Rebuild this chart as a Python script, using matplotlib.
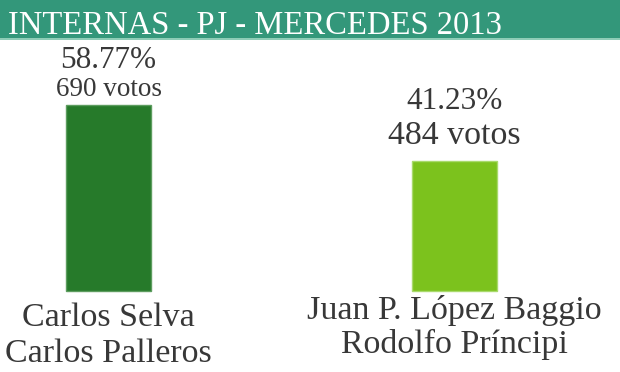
import matplotlib
matplotlib.use("Agg")
from matplotlib import pyplot as plt
from matplotlib.patches import Rectangle

# data
title = "INTERNAS - PJ - MERCEDES 2013"
name_line1 = ["Carlos Selva", "Juan P. López Baggio"]
name_line2 = ["Carlos Palleros", "Rodolfo Príncipi"]
votes = [690, 484]
percents = ["58.77%", "41.23%"]

# styling
bar_colors = ["#267a2a", "#7cc21d"]
edge_colors = ["#5d9d5f", "#a9da6c"]
votes_size = [19.5, 24.5]
votes_pad = [9, 17]
name_pad = [36, 28]
text_color = "#383838"
serif = ["Liberation Serif", "DejaVu Serif"]

W, H = 620, 372
fig = plt.figure(figsize=(W / 100, H / 100), dpi=100)
fig.patch.set_facecolor("white")

# header band
fig.patches.append(Rectangle((0, 1 - 38 / H), 1, 38 / H, transform=fig.transFigure,
                             facecolor="#33977a", edgecolor="none"))
fig.patches.append(Rectangle((0, 1 - 39.5 / H), 1, 1.5 / H, transform=fig.transFigure,
                             facecolor="#8fcdb7", edgecolor="none"))
fig.text(8 / W, 1 - 34 / H, title, color="white", fontsize=23.5,
         family=serif, va="baseline", ha="left")

ax = fig.add_axes([0, 0, 1, 1])
ax.set_axis_off()

# map bars into the pixel layout of the reference
unit = 346.0
ax.set_xlim(-108.5 / unit, (W - 108.5) / unit)
px_per_vote = 185.0 / max(votes)
base = H - 290.5
ax.set_ylim(-base / px_per_vote, (H - base) / px_per_vote)

x = list(range(len(votes)))
bars = ax.bar(x, votes, width=85 / unit, color=bar_colors,
              edgecolor=edge_colors, linewidth=1.0)

for i, b in enumerate(bars):
    cx = b.get_x() + b.get_width() / 2
    top = b.get_height()
    vp = votes_pad[i]
    ax.annotate(f"{votes[i]} votos", (cx, top), xytext=(0, vp),
                textcoords="offset pixels", ha="center", va="baseline",
                fontsize=votes_size[i], family=serif, color=text_color)
    gap = votes_size[i] * 100 / 72 + 1
    ax.annotate(percents[i], (cx, top), xytext=(0, vp + gap),
                textcoords="offset pixels", ha="center", va="baseline",
                fontsize=22.5, family=serif, color=text_color)
    ax.annotate(name_line1[i], (cx, 0), xytext=(0, -name_pad[i]),
                textcoords="offset pixels", ha="center", va="baseline",
                fontsize=24.5, family=serif, color=text_color)
    ax.annotate(name_line2[i], (cx, 0), xytext=(0, -name_pad[i] - 35),
                textcoords="offset pixels", ha="center", va="baseline",
                fontsize=24.5, family=serif, color=text_color)

plt.savefig("out.png", dpi=100)
